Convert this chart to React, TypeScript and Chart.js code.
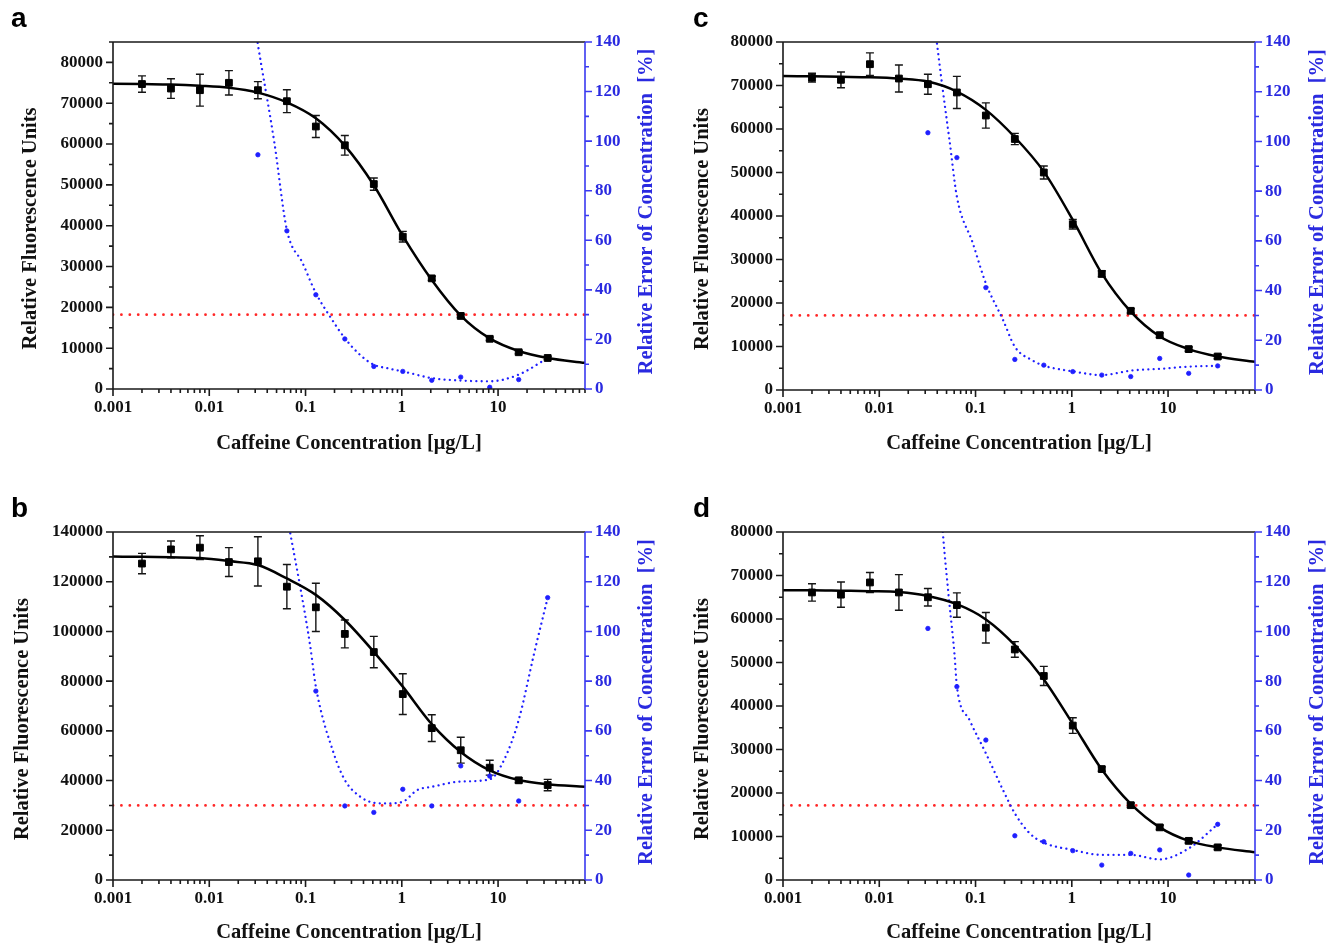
import React, { useEffect, useRef } from 'react';
import { Chart, registerables } from 'chart.js';

Chart.register(...registerables);

// ---------- shared data ----------
const concentration = [0.002, 0.004, 0.008, 0.016, 0.032, 0.064, 0.128, 0.256, 0.512, 1.024, 2.048, 4.096, 8.192, 16.384, 32.768];
const fitConcentration = [0.001, 0.002, 0.004, 0.008, 0.016, 0.032, 0.064, 0.128, 0.256, 0.512, 1.024, 2.048, 4.096, 8.192, 16.384, 32.768, 80];
const xTickValues = [0.001, 0.01, 0.1, 1, 10];
const xTickLabels = ['0.001', '0.01', '0.1', '1', '10'];
const errorAxisTicks = [0, 20, 40, 60, 80, 100, 120, 140];
const limitX = [0.001, 80];
const limitY = [30, 30];

const xTitle = 'Caffeine Concentration [μg/L]';
const leftTitle = 'Relative Fluorescence Units';
const rightTitle = 'Relative Error of Concentration  [%]';

// ---------- panel a ----------
const rfuA = [74700, 73600, 73200, 75000, 73200, 70500, 64300, 59700, 50200, 37300, 27100, 17900, 12300, 9000, 7600];
const rfuSdA = [2000, 2400, 3900, 3000, 2100, 2800, 2700, 2400, 1500, 1300, 500, 400, 400, 400, 400];
const fitA = [74800, 74700, 74600, 74300, 73800, 72600, 70200, 66300, 59600, 49900, 37500, 26700, 18000, 12400, 9300, 7600, 6400];
const errDotXA = [0.032, 0.064, 0.128, 0.256, 0.512, 1.024, 2.048, 4.096, 8.192, 16.384, 32.768];
const errDotA = [94.5, 63.8, 38.0, 20.2, 9.1, 7.1, 3.5, 4.8, 0.7, 3.8, 12.5];
const errCurveXA = [0.03, 0.032, 0.0472, 0.064, 0.0933, 0.128, 0.184, 0.256, 0.368, 0.512, 0.726, 1.024, 2.048, 4.096, 8.192, 16.384, 32.768];
const errCurveA = [146, 139, 100, 64.2, 50.8, 38.7, 28.6, 20.5, 13.8, 9.8, 8.3, 7.1, 4.4, 3.4, 3.1, 5.8, 12.5];
const rfuTicksA = [0, 10000, 20000, 30000, 40000, 50000, 60000, 70000, 80000];
const rfuMaxA = 85000;

// ---------- panel b ----------
const rfuB = [127300, 133000, 133700, 127900, 128200, 118000, 109700, 99000, 91700, 74800, 61100, 52200, 45200, 40100, 38200];
const rfuSdB = [4100, 3400, 4800, 5800, 9900, 8900, 9700, 5600, 6300, 8200, 5400, 5200, 3000, 1000, 2300];
const fitB = [130100, 130000, 129800, 129500, 128300, 126700, 121300, 114700, 104600, 91800, 77800, 62700, 51500, 44100, 40200, 38500, 37500];
const errDotXB = [0.064, 0.128, 0.256, 0.512, 1.024, 2.048, 4.096, 8.192, 16.384, 32.768];
const errDotB = [117.6, 76.0, 29.8, 27.2, 36.5, 29.8, 45.9, 41.8, 31.8, 113.6];
const errCurveXB = [0.062, 0.069, 0.088, 0.112, 0.128, 0.196, 0.256, 0.371, 0.512, 0.703, 1.024, 1.45, 2.048, 4.096, 8.192, 11.55, 16.384, 23.7, 32.768];
const errCurveB = [150, 140, 118, 94, 77.8, 51, 40.2, 33.5, 31.1, 30.8, 31.5, 36.2, 37.5, 39.6, 40.5, 48.3, 64.4, 91.2, 113.6];
const rfuTicksB = [0, 20000, 40000, 60000, 80000, 100000, 120000, 140000];
const rfuMaxB = 140000;

// ---------- panel c ----------
const rfuC = [71800, 71300, 74900, 71600, 70300, 68400, 63100, 57700, 50000, 38100, 26700, 18200, 12600, 9400, 7700];
const rfuSdC = [1000, 1800, 2600, 3100, 2300, 3700, 2900, 1300, 1500, 1100, 700, 500, 500, 500, 500];
const fitC = [72200, 72100, 72000, 71900, 71600, 70900, 68600, 64400, 58100, 50200, 39100, 26800, 18000, 12300, 9400, 7700, 6500];
const errDotXC = [0.032, 0.064, 0.128, 0.256, 0.512, 1.024, 2.048, 4.096, 8.192, 16.384, 32.768];
const errDotC = [103.5, 93.5, 41.2, 12.3, 10.0, 7.4, 6.0, 5.4, 12.7, 6.7, 9.7];
const errCurveXC = [0.037, 0.0396, 0.0457, 0.0536, 0.064, 0.0938, 0.128, 0.193, 0.256, 0.395, 0.512, 1.024, 2.048, 4.096, 8.192, 16.384, 32.768];
const errCurveC = [150, 140, 120.7, 100.6, 77.8, 59, 42.9, 28.2, 17.4, 11.8, 9.8, 7.5, 6.0, 7.8, 8.5, 9.4, 9.7];
const rfuTicksC = [0, 10000, 20000, 30000, 40000, 50000, 60000, 70000, 80000];
const rfuMaxC = 80000;

// ---------- panel d ----------
const rfuD = [66100, 65600, 68400, 66100, 65000, 63200, 58000, 53000, 46900, 35500, 25500, 17200, 12100, 9000, 7500];
const rfuSdD = [2000, 2900, 2300, 4100, 2000, 2800, 3500, 1800, 2200, 1800, 500, 500, 500, 500, 500];
const fitD = [66600, 66600, 66500, 66400, 66200, 65300, 63400, 59900, 54000, 46100, 35900, 25400, 17500, 12100, 9000, 7500, 6400];
const errDotXD = [0.032, 0.064, 0.128, 0.256, 0.512, 1.024, 2.048, 4.096, 8.192, 16.384, 32.768];
const errDotD = [101.2, 77.8, 56.3, 17.8, 15.4, 11.8, 6.0, 10.7, 12.1, 2.0, 22.4];
const errCurveXD = [0.043, 0.0457, 0.0536, 0.0604, 0.064, 0.0866, 0.128, 0.193, 0.256, 0.365, 0.512, 1.024, 2.048, 4.096, 8.192, 16.384, 32.768];
const errCurveD = [155, 140, 111, 91, 78, 64.4, 51, 36.2, 26.8, 18.8, 15.0, 12.1, 10.1, 10.1, 8.3, 12.7, 22.4];
const rfuTicksD = [0, 10000, 20000, 30000, 40000, 50000, 60000, 70000, 80000];
const rfuMaxD = 80000;

// ---------- styles / layout ----------
const BLUE = '#1f1fff';
const BLUE_AXIS = '#3a3af0';
const BLUE_TEXT = '#2a2ae0';
const RED = '#ff2626';
const SERIF = '"Liberation Serif", "Times New Roman", serif';
const TITLE_SIZE = 20.5;
const CW = 663;
const CH = 473;

type Panel = {
  letter: string;
  left: number;
  top: number;
  rfu: number[];
  sd: number[];
  fit: number[];
  dotX: number[];
  dot: number[];
  curveX: number[];
  curve: number[];
  rfuTicks: number[];
  rfuMax: number;
  padTop: number;
  leftW: number;
  rightW: number;
  bottomH: number;
  xTitlePad: number;
  leftTitleX: number;
  rightTitleX: number;
};

const panels: Panel[] = [
  { letter: 'a', left: 0, top: 0, rfu: rfuA, sd: rfuSdA, fit: fitA, dotX: errDotXA, dot: errDotA, curveX: errCurveXA, curve: errCurveA, rfuTicks: rfuTicksA, rfuMax: rfuMaxA, padTop: 42, leftW: 113, rightW: 78, bottomH: 84, xTitlePad: 19, leftTitleX: 36, rightTitleX: 652 },
  { letter: 'b', left: 0, top: 473, rfu: rfuB, sd: rfuSdB, fit: fitB, dotX: errDotXB, dot: errDotB, curveX: errCurveXB, curve: errCurveB, rfuTicks: rfuTicksB, rfuMax: rfuMaxB, padTop: 59, leftW: 113, rightW: 78, bottomH: 66, xTitlePad: 3.5, leftTitleX: 28, rightTitleX: 652 },
  { letter: 'c', left: 663, top: 0, rfu: rfuC, sd: rfuSdC, fit: fitC, dotX: errDotXC, dot: errDotC, curveX: errCurveXC, curve: errCurveC, rfuTicks: rfuTicksC, rfuMax: rfuMaxC, padTop: 42, leftW: 120, rightW: 71, bottomH: 83, xTitlePad: 19, leftTitleX: 45, rightTitleX: 660 },
  { letter: 'd', left: 663, top: 473, rfu: rfuD, sd: rfuSdD, fit: fitD, dotX: errDotXD, dot: errDotD, curveX: errCurveXD, curve: errCurveD, rfuTicks: rfuTicksD, rfuMax: rfuMaxD, padTop: 59, leftW: 120, rightW: 71, bottomH: 66, xTitlePad: 3.5, leftTitleX: 45, rightTitleX: 660 },
];

const xy = (xs: number[], ys: number[]) => xs.map((x, i) => ({ x, y: ys[i] }));

function PanelChart({ p }: { p: Panel }) {
  const ref = useRef<HTMLCanvasElement>(null);

  useEffect(() => {
    const canvas = ref.current;
    if (!canvas) return;

    const framePlugin: any = {
      id: 'frame_' + p.letter,
      beforeDatasetsDraw(chart: any) {
        const ctx = chart.ctx;
        const xs = chart.scales.x;
        const ys = chart.scales.y;
        ctx.save();
        ctx.strokeStyle = '#151515';
        ctx.lineWidth = 1.4;
        ctx.beginPath();
        concentration.forEach((c, i) => {
          const px = xs.getPixelForValue(c);
          const yA = ys.getPixelForValue(p.rfu[i] + p.sd[i]);
          const yB = ys.getPixelForValue(p.rfu[i] - p.sd[i]);
          ctx.moveTo(px, yA);
          ctx.lineTo(px, yB);
          ctx.moveTo(px - 4, yA);
          ctx.lineTo(px + 4, yA);
          ctx.moveTo(px - 4, yB);
          ctx.lineTo(px + 4, yB);
        });
        ctx.stroke();
        ctx.restore();
      },
      afterDatasetsDraw(chart: any) {
        const ctx = chart.ctx;
        const { left, right, top, bottom } = chart.chartArea;
        const xs = chart.scales.x;
        const ys = chart.scales.y;
        const y1 = chart.scales.y1;
        ctx.save();
        ctx.lineCap = 'butt';
        ctx.setLineDash([]);
        ctx.strokeStyle = '#1a1a1a';
        ctx.lineWidth = 1.6;
        ctx.beginPath();
        ctx.moveTo(left, top); ctx.lineTo(right, top);
        ctx.moveTo(left, bottom); ctx.lineTo(right, bottom);
        ctx.moveTo(left, top); ctx.lineTo(left, bottom);
        for (let e = -3; e <= 1; e++) {
          for (let m = 1; m <= 9; m++) {
            const v = m * Math.pow(10, e);
            if (v > xs.max * 1.0001) continue;
            const px = xs.getPixelForValue(v);
            ctx.moveTo(px, bottom);
            ctx.lineTo(px, bottom + (m === 1 ? 7 : 4));
          }
        }
        const step = p.rfuTicks[1] - p.rfuTicks[0];
        for (let v = 0; v <= p.rfuMax + 1; v += step / 2) {
          const py = ys.getPixelForValue(v);
          const major = v % step === 0;
          ctx.moveTo(left - (major ? 7 : 4), py);
          ctx.lineTo(left, py);
        }
        ctx.stroke();
        ctx.strokeStyle = BLUE_AXIS;
        ctx.beginPath();
        ctx.moveTo(right, top); ctx.lineTo(right, bottom);
        for (let v = 0; v <= 140; v += 10) {
          const py = y1.getPixelForValue(v);
          ctx.moveTo(right, py);
          ctx.lineTo(right + (v % 20 === 0 ? 7 : 4), py);
        }
        ctx.stroke();
        ctx.restore();
      },
      afterDraw(chart: any) {
        const ctx = chart.ctx;
        const { top, bottom } = chart.chartArea;
        const mid = (top + bottom) / 2;
        ctx.save();
        ctx.font = 'bold ' + TITLE_SIZE + 'px ' + SERIF;
        ctx.textAlign = 'center';
        ctx.textBaseline = 'alphabetic';
        ctx.fillStyle = '#111';
        ctx.translate(p.leftTitleX, mid + 13);
        ctx.rotate(-Math.PI / 2);
        ctx.fillText(leftTitle, 0, 0);
        ctx.restore();
        ctx.save();
        ctx.font = 'bold ' + TITLE_SIZE + 'px ' + SERIF;
        ctx.textAlign = 'center';
        ctx.textBaseline = 'alphabetic';
        ctx.fillStyle = BLUE_TEXT;
        ctx.translate(p.rightTitleX, mid - 4);
        ctx.rotate(-Math.PI / 2);
        ctx.fillText(rightTitle, 0, 0);
        ctx.restore();
      },
    };

    const tickFont = { family: SERIF, size: 17, weight: 'bold' as const, lineHeight: 1 };

    const chart = new Chart(canvas, {
      type: 'line',
      data: {
        datasets: [
          {
            label: 'RFU',
            data: xy(concentration, p.rfu),
            yAxisID: 'y',
            showLine: false,
            pointStyle: 'rect',
            pointRadius: 4.8,
            pointBorderWidth: 1,
            pointBackgroundColor: '#000',
            pointBorderColor: '#000',
          },
          {
            label: 'Fit',
            data: xy(fitConcentration, p.fit),
            yAxisID: 'y',
            borderColor: '#000',
            borderWidth: 2.5,
            pointRadius: 0,
            cubicInterpolationMode: 'monotone',
            fill: false,
          },
          {
            label: 'Error points',
            data: xy(p.dotX, p.dot),
            yAxisID: 'y1',
            showLine: false,
            pointStyle: 'circle',
            pointRadius: 2.2,
            pointBorderWidth: 0.8,
            pointBackgroundColor: BLUE,
            pointBorderColor: BLUE,
          },
          {
            label: 'Error curve',
            data: xy(p.curveX, p.curve),
            yAxisID: 'y1',
            borderColor: BLUE,
            borderWidth: 2.3,
            borderDash: [0.01, 5.3],
            borderCapStyle: 'round',
            pointRadius: 0,
            cubicInterpolationMode: 'monotone',
            fill: false,
          },
          {
            label: 'Limit',
            data: xy(limitX, limitY),
            yAxisID: 'y1',
            borderColor: RED,
            borderWidth: 2.8,
            borderDash: [0.01, 8.4],
            borderCapStyle: 'round',
            pointRadius: 0,
            fill: false,
          },
        ] as any,
      },
      options: {
        animation: false,
        responsive: false,
        maintainAspectRatio: false,
        events: [],
        layout: { padding: { top: p.padTop, left: 0, right: 0, bottom: 0 } },
        plugins: { legend: { display: false }, tooltip: { enabled: false }, title: { display: false } },
        scales: {
          x: {
            type: 'logarithmic',
            position: 'bottom',
            min: 0.001,
            max: 80,
            grid: { display: false, drawTicks: false },
            border: { display: false },
            ticks: {
              autoSkip: false,
              maxRotation: 0,
              minRotation: 0,
              padding: 10.5,
              color: '#111',
              font: tickFont,
              callback: (v: any) => {
                const i = xTickValues.indexOf(Number(v));
                return i >= 0 ? xTickLabels[i] : '';
              },
            },
            afterBuildTicks: (s: any) => {
              s.ticks = xTickValues.map((v) => ({ value: v }));
            },
            afterFit: (s: any) => {
              s.height = p.bottomH;
            },
            title: {
              display: true,
              text: xTitle,
              color: '#111',
              font: { family: SERIF, size: TITLE_SIZE, weight: 'bold', lineHeight: 1 },
              padding: { top: 0, bottom: p.xTitlePad },
            },
          },
          y: {
            type: 'linear',
            position: 'left',
            min: 0,
            max: p.rfuMax,
            grid: { display: false, drawTicks: false },
            border: { display: false },
            ticks: {
              padding: 10,
              color: '#111',
              font: tickFont,
              callback: (v: any) => String(v),
            },
            afterBuildTicks: (s: any) => {
              s.ticks = p.rfuTicks.map((v) => ({ value: v }));
            },
            afterFit: (s: any) => {
              s.width = p.leftW;
            },
          },
          y1: {
            type: 'linear',
            position: 'right',
            min: 0,
            max: 140,
            grid: { display: false, drawTicks: false },
            border: { display: false },
            ticks: {
              padding: 10,
              color: BLUE_TEXT,
              font: tickFont,
              callback: (v: any) => String(v),
            },
            afterBuildTicks: (s: any) => {
              s.ticks = errorAxisTicks.map((v) => ({ value: v }));
            },
            afterFit: (s: any) => {
              s.width = p.rightW;
            },
          },
        },
      } as any,
      plugins: [framePlugin],
    });

    return () => {
      chart.destroy();
    };
  }, [p]);

  return (
    <div style={{ position: 'absolute', left: p.left, top: p.top, width: CW, height: CH }}>
      <canvas ref={ref} width={CW} height={CH} style={{ display: 'block', width: CW, height: CH }} />
      <div
        style={{
          position: 'absolute',
          left: p.left === 0 ? 11 : 30,
          top: p.top === 0 ? 4 : 21,
          font: 'bold 28px "Liberation Sans", Arial, sans-serif',
          lineHeight: '28px',
          color: '#000',
        }}
      >
        {p.letter}
      </div>
    </div>
  );
}

export default function App() {
  return (
    <div
      style={{
        position: 'fixed',
        left: 0,
        top: 0,
        width: 1326,
        height: 946,
        background: '#fff',
        overflow: 'hidden',
      }}
    >
      {panels.map((p) => (
        <PanelChart key={p.letter} p={p} />
      ))}
    </div>
  );
}
